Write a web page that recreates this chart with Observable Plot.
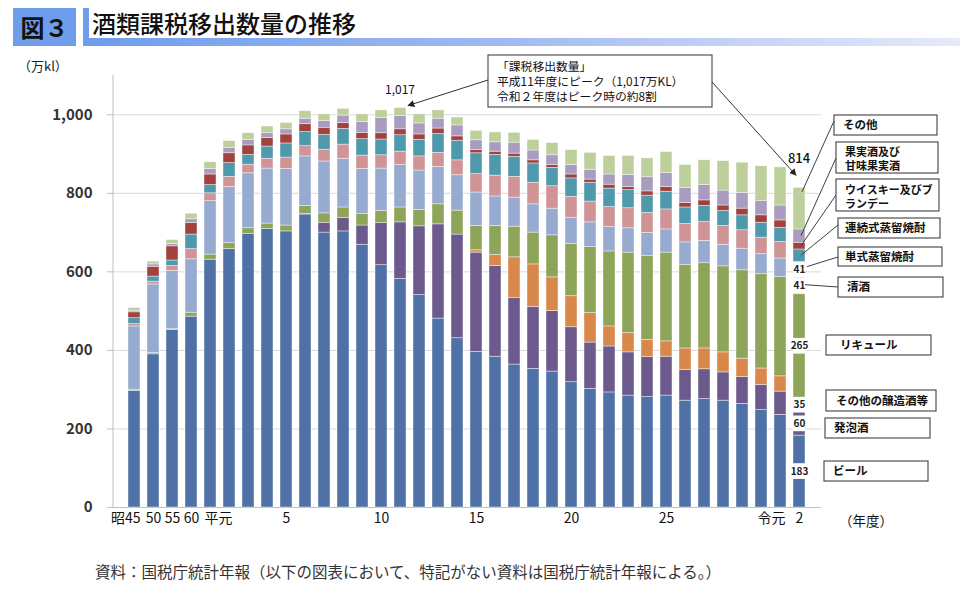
<!DOCTYPE html>
<html lang="ja">
<head>
<meta charset="utf-8">
<script src="https://cdn.jsdelivr.net/npm/d3@7"></script>
<script src="https://cdn.jsdelivr.net/npm/@observablehq/plot@0.6"></script>
<style>
  html,body{margin:0;padding:0;background:#fff;}
  body{width:960px;height:590px;position:relative;overflow:hidden;font-family:"Noto Sans CJK JP","Noto Sans",sans-serif;color:#111;}
  #header{position:absolute;left:0;top:0;width:960px;height:50px;}
  .fig{position:absolute;left:13px;top:8px;width:63px;height:38px;background:#6E9DEB;color:#111;font-size:24px;font-weight:700;line-height:38px;text-align:center;}
  .vbar{position:absolute;left:83px;top:8px;width:6px;height:38px;background:#6E9DEB;}
  .hbar{position:absolute;left:83px;top:38px;width:877px;height:8px;background:linear-gradient(90deg,#6E9DEB 0%,#9DB7F1 45%,#E6EAFB 100%);}
  .title{position:absolute;left:92px;top:9px;font-size:24px;line-height:28px;font-weight:500;color:#111;white-space:nowrap;}
  #chart{position:absolute;left:0;top:50px;width:960px;height:500px;}
  #caption{position:absolute;left:95px;top:561px;font-size:15.5px;line-height:20px;color:#333;white-space:nowrap;}
  #chart svg g[aria-label="y-axis tick label"] text{font-weight:600;}
</style>
</head>
<body>
<div id="header">
  <div class="fig">図３</div>
  <div class="vbar"></div>
  <div class="hbar"></div>
  <div class="title">酒類課税移出数量の推移</div>
</div>
<div id="chart"></div>
<div id="caption">資料：国税庁統計年報（以下の図表において、特記がない資料は国税庁統計年報による。）</div>
<script>
// ---------- data (万kl) ----------
const years = ["昭45","昭50","昭55","昭60","平元","平2","平3","平4","平5","平6","平7","平8","平9","平10","平11","平12","平13","平14","平15","平16","平17","平18","平19","平20","平21","平22","平23","平24","平25","平26","平27","平28","平29","平30","令元","令2"];

const categories = ["ビール","発泡酒","その他の醸造酒等","リキュール","清酒","単式蒸留焼酎","連続式蒸留焼酎","ウイスキー及びブランデー","果実酒及び甘味果実酒","その他"];

const beer        = [297,390,452,486,631,658,697,709,703,746,700,703,669,617,582,541,481,431,396,384,364,353,346,319,302,293,285,281,285,272,276,272,264,248,236,183];
const happoshu    = [0,0,0,0,0,0,0,0,0,1,25,34,49,107,144,175,240,264,253,231,169,158,154,140,118,117,110,102,99,78,76,72,68,64,59,60];
const otherBrewed = [0,0,0,0,0,0,0,0,0,0,0,0,0,0,0,0,0,0,6,28,104,108,86,79,75,51,49,44,39,55,53,51,47,42,39,35];
const liqueur     = [3,3,2,10,13,15,14,14,15,21,24,27,29,31,38,42,51,61,62,74,78,81,107,133,168,191,205,213,226,213,217,219,225,240,253,265];
const sake        = [161,175,148,136,136,143,140,140,144,126,132,124,115,108,108,100,95,90,85,75,74,72,68,66,63,62,62,59,59,57,57,55,55,51,47,41];
const tanshiki    = [6,7,13,26,20,26,22,25,29,26,30,36,34,34,34,36,36,38,47,53,53,55,57,54,53,51,51,51,51,47,48,48,47,42,42,41];
const renzoku     = [15,13,14,37,21,35,25,31,36,36,38,40,42,40,42,42,48,50,53,53,51,49,47,47,48,47,46,44,45,42,41,38,38,38,36,32];
const whisky      = [15,25,36,29,27,25,24,22,23,20,18,15,16,16,15,14,14,11,8,8,8,8,7,10,8,10,8,11,12,11,14,14,17,19,19,17];
const fruitWine   = [4,6,6,10,14,14,14,12,13,14,17,19,28,39,34,28,25,28,25,24,28,25,25,24,25,26,31,36,36,39,39,38,40,36,38,34];
const others      = [7,7,10,14,17,17,17,17,16,19,17,17,19,19,20,23,21,20,24,25,25,27,31,38,43,47,48,48,53,58,63,75,77,89,97,106];

const seriesValues = [beer,happoshu,otherBrewed,liqueur,sake,tanshiki,renzoku,whisky,fruitWine,others];

const yTicks = [0,200,400,600,800,1000];
const tickYearsCenter = ["昭50","昭55","昭60","平5","平10","平15","平20","平25","令2"];
const tickTextCenter  = ["50","55","60","5","10","15","20","25","2"];
const peakYear = "平11", peakTotal = 1017;
const lastYear = "令2", lastTotal = 814;
const labelledCats = ["ビール","発泡酒","その他の醸造酒等","リキュール","清酒","単式蒸留焼酎"];

// ---------- styles ----------
const colors = ["#4F71A5","#6C5A8D","#D8884B","#8DA459","#97AAD0","#D09497","#4E99AC","#A1423F","#A99CC0","#BDCF9B"];
const OFF = 50; // svg top offset in page

const rows = years.flatMap((yr, i) => categories.map((c, k) => ({year: yr, category: c, value: seriesValues[k][i]})));

// last-bar segment extents
const li = years.indexOf(lastYear);
let acc = 0;
const segs = categories.map((c, k) => { const lo = acc; acc += seriesValues[k][li]; return {category: c, lo, hi: acc, value: seriesValues[k][li], mid: (lo + acc) / 2, year: lastYear}; });
const lastLabels = segs.filter(s => labelledCats.includes(s.category));

const font = '"Noto Sans CJK JP","Noto Sans",sans-serif';

const chart = Plot.plot({
  width: 960, height: 500,
  marginTop: 25, marginBottom: 43, marginLeft: 113, marginRight: 139,
  x: {domain: years, paddingInner: 0.36, paddingOuter: 0.2, axis: null},
  y: {domain: [0, 1100], axis: null},
  color: {domain: categories, range: colors},
  style: {fontFamily: font, background: "white", color: "#111"},
  marks: [
    Plot.gridY(yTicks.filter(d => d > 0), {stroke: "#d9d9d9", strokeOpacity: 1}),
    Plot.ruleY([0], {stroke: "#bfbfbf"}),
    Plot.axisY(yTicks, {tickSize: 6, tickPadding: 15, tickFormat: d3.format(","), fontSize: 15, stroke: "#bfbfbf", fill: "#333", label: null}),
    Plot.barY(rows, {x: "year", y: "value", fill: "category", order: categories, stroke: "white", strokeWidth: 0.7, strokeOpacity: 0.6}),
    Plot.barY(lastLabels, {x: "year", y1: d => d.mid - 20, y2: d => d.mid + 20, fill: "white"}),
    Plot.text(lastLabels, {x: "year", y: "mid", text: d => String(d.value), fontSize: 10, fontWeight: "bold", fill: "#222"}),
    Plot.text(tickYearsCenter, {x: d => d, frameAnchor: "bottom", dy: 15, text: (d, i) => tickTextCenter[i], fontSize: 14, fill: "#111"}),
    Plot.text(["昭45"], {x: d => d, frameAnchor: "bottom", dy: 15, dx: 6, textAnchor: "end", text: d => d, fontSize: 14, fill: "#111"}),
    Plot.text(["平元"], {x: d => d, frameAnchor: "bottom", dy: 15, dx: -6, textAnchor: "start", text: d => d, fontSize: 14, fill: "#111"}),
    Plot.text(["令元"], {x: d => d, frameAnchor: "bottom", dy: 15, dx: 5, textAnchor: "end", text: d => d, fontSize: 14, fill: "#111"})
  ]
});
document.getElementById("chart").appendChild(chart);

// ---------- annotations ----------
const svg = d3.select(chart);
const xS = chart.scale("x"), yS = chart.scale("y");
const bw = xS.bandwidth;
const cx = yr => xS.apply(yr) + bw / 2;
const Y = v => yS.apply(v);
const P = y => y - OFF;

const defs = svg.append("defs");
defs.append("marker").attr("id", "arrowhead").attr("viewBox", "0 0 10 10").attr("refX", 9).attr("refY", 5)
  .attr("markerWidth", 7).attr("markerHeight", 7).attr("orient", "auto")
  .append("path").attr("d", "M0,0L10,5L0,10z").attr("fill", "#222");

const g = svg.append("g").attr("font-family", font).attr("text-anchor", "start");

// multi-line text as one <text> with tspans
function multiText(x, baselines, lines, size, weight) {
  const t = g.append("text").attr("x", x).attr("y", P(baselines[0])).attr("font-size", size).attr("font-weight", weight).attr("fill", "#111");
  lines.forEach((s, i) => t.append("tspan").attr("x", x).attr("y", P(baselines[i])).text(s));
  return t;
}

// y axis line
g.append("line").attr("x1", xS.range[0]).attr("x2", xS.range[0]).attr("y1", Y(1100)).attr("y2", Y(0)).attr("stroke", "#bfbfbf");

// axis labels
g.append("text").attr("x", 18).attr("y", P(67)).attr("dominant-baseline", "middle").attr("font-size", 13).attr("fill", "#222").text("（万kl）");
g.append("text").attr("x", 839).attr("y", P(522)).attr("dominant-baseline", "middle").attr("font-size", 13.5).attr("fill", "#111").text("（年度）");

// callout
const cb = {x: 488, y: 55, w: 224, h: 52};
g.append("rect").attr("x", cb.x).attr("y", P(cb.y)).attr("width", cb.w).attr("height", cb.h).attr("fill", "white").attr("stroke", "#333").attr("stroke-width", 1);
const calloutLines = ["「課税移出数量」", "平成11年度にピーク（1,017万KL）", "令和２年度はピーク時の約8割"];
multiText(497, [71, 86, 101], calloutLines, 11.8, 400);

g.append("line").attr("x1", cb.x).attr("y1", P(80)).attr("x2", cx(peakYear) + 8).attr("y2", Y(peakTotal) - 2)
  .attr("stroke", "#333").attr("stroke-width", 1).attr("marker-end", "url(#arrowhead)");
g.append("line").attr("x1", cb.x + cb.w).attr("y1", P(82)).attr("x2", cx(lastYear) - 3).attr("y2", Y(lastTotal) - 12)
  .attr("stroke", "#333").attr("stroke-width", 1).attr("marker-end", "url(#arrowhead)");

g.append("text").attr("x", cx(peakYear)).attr("y", Y(peakTotal) - 14).attr("text-anchor", "middle").attr("font-size", 12).attr("fill", "#111").text(d3.format(",")(peakTotal));
g.append("text").attr("x", cx(lastYear)).attr("y", Y(lastTotal) - 24).attr("text-anchor", "middle").attr("font-size", 13).attr("font-weight", 500).attr("fill", "#111").text(String(lastTotal));

// legend boxes (page coordinates)
const legendLayout = [
  {cat: "その他", box: [834,115,103,20], tx: 843, base: [129], link: {frac: 0.89, dx: 3, dy: 0, to: [834,121]}},
  {cat: "果実酒及び甘味果実酒", text: ["果実酒及び","甘味果実酒"], box: [836,142,102,31], tx: 845, base: [155.5,169.5], link: {frac: 0.5, dx: 2, dy: 0, to: [836,158]}},
  {cat: "ウイスキー及びブランデー", text: ["ウイスキー及びブ","ランデー"], box: [836,179,103,32], tx: 845, base: [193.5,207.5], link: {frac: 0.5, dx: 2, dy: 0, to: [836,195]}},
  {cat: "連続式蒸留焼酎", box: [838,218,102,20], tx: 845, base: [232], link: {frac: 0.5, dx: 2, dy: 0, to: [838,225]}},
  {cat: "単式蒸留焼酎", box: [838,247,104,19], tx: 845, base: [261], link: {frac: 0.5, dx: 8, dy: -3, to: [838,257]}},
  {cat: "清酒", box: [838,277,105,20], tx: 847, base: [291], link: {frac: 0.5, dx: 6, dy: -1, to: [838,287]}},
  {cat: "リキュール", box: [826,335,105,20], tx: 840, base: [349]},
  {cat: "その他の醸造酒等", box: [826,390,110,21], tx: 836, base: [405]},
  {cat: "発泡酒", box: [825,418,105,20], tx: 834, base: [432]},
  {cat: "ビール", box: [824,461,104,20], tx: 833, base: [475]}
];
legendLayout.forEach(L => {
  const [bx, by, bw2, bh] = L.box;
  if (L.link) {
    const s = segs.find(d => d.category === L.cat);
    const vy = s.lo + L.link.frac * (s.hi - s.lo);
    g.append("line").attr("x1", cx(lastYear) + L.link.dx).attr("y1", Y(vy) + L.link.dy)
      .attr("x2", L.link.to[0]).attr("y2", P(L.link.to[1])).attr("stroke", "#404040").attr("stroke-width", 1);
  }
  g.append("rect").attr("x", bx).attr("y", P(by)).attr("width", bw2).attr("height", bh)
    .attr("fill", "white").attr("stroke", "#404040").attr("stroke-width", 1.1);
  const lines = L.text || [L.cat];
  multiText(L.tx, L.base, lines, lines.length > 1 ? 11 : 11.5, 700);
});
</script>
</body>
</html>
